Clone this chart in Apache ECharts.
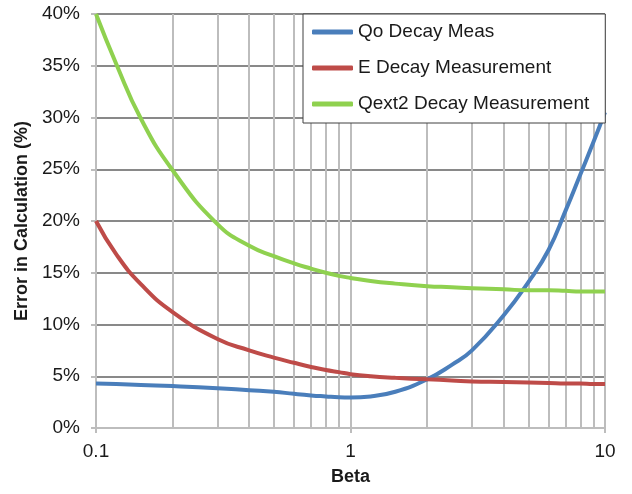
<!DOCTYPE html>
<html>
<head>
<meta charset="utf-8">
<script src="https://cdn.jsdelivr.net/npm/echarts@6/dist/echarts.min.js"></script>
<style>
  html, body { margin: 0; padding: 0; background: #fff; }
  #main { width: 632px; height: 494px; }
</style>
</head>
<body>
<div id="main"></div>
<script>
// x values (Beta), shared by all series
var betas = [0.1, 0.12, 0.15, 0.2, 0.3, 0.4, 0.5, 0.6, 0.7, 0.8, 0.9, 1,
	1.2, 1.5, 2, 2.5, 3, 4, 5, 6, 7, 8, 9, 10];
// error in calculation (%)
var qoDecay = [4.3, 4.25, 4.15, 4.05, 3.85, 3.65, 3.5, 3.3, 3.15, 3.05, 2.97, 2.95,
	3.05, 3.5, 4.7, 6.1, 7.5, 10.9, 14.1, 17.2, 21.0, 24.5, 27.6, 30.5];
var eDecay = [20, 16.8, 13.9, 11.2, 8.6, 7.5, 6.8, 6.3, 5.9, 5.6, 5.4, 5.2,
	5.0, 4.85, 4.7, 4.6, 4.5, 4.45, 4.4, 4.35, 4.3, 4.3, 4.25, 4.25];
var qextDecay = [40, 35.2, 29.9, 24.9, 19.7, 17.6, 16.6, 15.9, 15.4, 15.0, 14.7, 14.5,
	14.2, 13.95, 13.7, 13.6, 13.5, 13.4, 13.3, 13.3, 13.25, 13.2, 13.2, 13.2];
var seriesNames = ['Qo Decay Meas', 'E Decay Measurement', 'Qext2 Decay Measurement'];
// minor log grid lines
var minorGrid = [0.2, 0.3, 0.4, 0.5, 0.6, 0.7, 0.8, 0.9, 2, 3, 4, 5, 6, 7, 8, 9];

var FONT = 'Liberation Sans, Arial, sans-serif';
var FS = 19;
var vGrid = '#bdbdbd';

function pairs(ys) {
	return betas.map(function(b, i) { return [b, ys[i]]; });
}

function lineSeries(name, ys, color) {
	return {
		name: name,
		type: 'line',
		smooth: true,
		showSymbol: false,
		data: pairs(ys),
		z: 3,
		lineStyle: { color: color, width: 4 },
		itemStyle: { color: color }
	};
}

var myChart = echarts.init(document.getElementById('main'));
myChart.setOption({
	animation: false,
	backgroundColor: '#fff',
	grid: { left: 96, right: 27, top: 14, bottom: 66 },
	legend: {
		orient: 'vertical',
		left: 303,
		top: 14,
		z: 20,
		data: seriesNames,
		icon: 'roundRect',
		itemWidth: 41,
		itemHeight: 5,
		itemGap: 16,
		padding: [8, 16, 9, 9],
		backgroundColor: '#fff',
		borderColor: '#404040',
		borderWidth: 1,
		borderRadius: 0,
		textStyle: { fontFamily: FONT, fontSize: FS, color: '#1a1a1a', lineHeight: 20 }
	},
	xAxis: {
		type: 'log',
		logBase: 10,
		min: 0.1,
		max: 10,
		name: 'Beta',
		nameLocation: 'middle',
		nameGap: 40,
		nameTextStyle: { fontFamily: FONT, fontSize: 18, fontWeight: 'bold', color: '#1a1a1a' },
		axisLine: { lineStyle: { color: vGrid, width: 2 } },
		axisTick: { show: true, length: 5, lineStyle: { color: vGrid, width: 2 } },
		axisLabel: { fontFamily: FONT, fontSize: FS, color: '#1a1a1a', margin: 14 },
		splitLine: { show: true, lineStyle: { color: vGrid, width: 2 } }
	},
	yAxis: {
		type: 'value',
		min: 0,
		max: 40,
		interval: 5,
		name: 'Error in Calculation (%)',
		nameLocation: 'middle',
		nameGap: 62,
		nameTextStyle: { fontFamily: FONT, fontSize: 18, fontWeight: 'bold', color: '#1a1a1a' },
		axisLine: { show: true, lineStyle: { color: vGrid, width: 2 } },
		axisTick: { show: true, length: 5, lineStyle: { color: vGrid, width: 2 } },
		axisLabel: { fontFamily: FONT, fontSize: FS, color: '#1a1a1a', margin: 16, formatter: '{value}%' },
		splitLine: { show: true, lineStyle: { color: '#898989', width: 2 } }
	},
	series: [
		{
			// holder for the minor vertical grid lines
			type: 'line',
			data: [],
			z: 1,
			silent: true,
			markLine: {
				z: 1,
				silent: true,
				symbol: 'none',
				label: { show: false },
				lineStyle: { color: vGrid, width: 2, type: 'solid' },
				data: minorGrid.map(function(v) { return { xAxis: v }; })
			}
		},
		lineSeries(seriesNames[0], qoDecay, '#4a7ebb'),
		lineSeries(seriesNames[1], eDecay, '#be4b48'),
		lineSeries(seriesNames[2], qextDecay, '#8fd14f')
	]
});
</script>
</body>
</html>
